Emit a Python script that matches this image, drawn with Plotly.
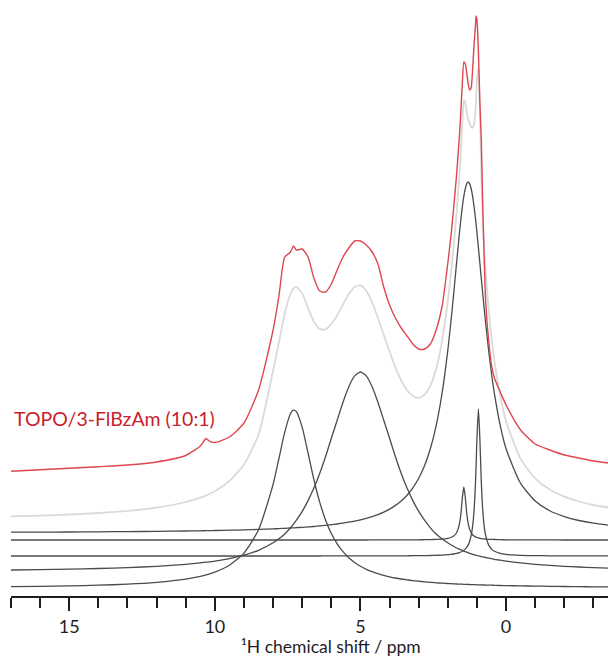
import plotly.graph_objects as go

# Chemical-shift grid (ppm) shared by every trace
PPM = [17, 16, 15, 14, 13, 12, 11, 10.5, 10.3, 10.2, 10.0, 9.5, 9.0, 8.5, 8.0,
       7.8, 7.6, 7.4, 7.3, 7.2, 7.0, 6.8, 6.6, 6.4, 6.2, 6.0, 5.8, 5.6, 5.4, 5.2,
       5.0, 4.8, 4.6, 4.4, 4.2, 4.0, 3.8, 3.6, 3.4, 3.2, 3.0, 2.8, 2.6, 2.4, 2.2,
       2.0, 1.9, 1.8, 1.7, 1.6, 1.55, 1.5, 1.45, 1.4, 1.35, 1.3, 1.25, 1.2, 1.15,
       1.1, 1.05, 1.03, 1.0, 0.95, 0.9, 0.85, 0.8, 0.75, 0.7, 0.6, 0.5, 0.4, 0.2,
       0.0, -0.5, -1.0, -1.5, -2.0, -2.5, -3.0, -3.5]

# Experimental spectrum TOPO/3-FlBzAm (10:1), intensity above its own baseline
EXPERIMENTAL = [3.8, 5.3, 6.7, 8.3, 10.0, 13.0, 19.5, 29.0, 36.5, 34.0, 32.5, 38.0,
                52.0, 85.0, 145.0, 179.0, 218.0, 223.0, 229.0, 225.0, 226.0, 218.0,
                197.0, 184.0, 183.0, 191.0, 205.0, 218.0, 227.0, 234.0, 234.0, 230.0,
                223.0, 211.0, 188.0, 170.0, 157.0, 147.0, 139.0, 131.0, 126.0, 126.0,
                131.0, 145.0, 168.0, 212.0, 237.0, 267.0, 300.0, 340.0, 365.0, 393.0,
                413.0, 411.0, 402.0, 391.0, 385.0, 387.0, 405.0, 430.0, 450.0, 459.0,
                455.0, 424.0, 373.0, 335.0, 267.0, 215.0, 173.0, 135.0, 110.0, 97.0,
                83.0, 70.0, 45.0, 31.0, 25.0, 20.0, 17.0, 14.0, 12.0]

# Sum of the fitted components (light grey)
FIT_SUM = [4.1, 4.9, 6.0, 7.5, 9.6, 12.9, 18.5, 22.9, 25.1, 26.4, 29.2, 39.5, 56.0,
           86.0, 150.0, 178.0, 207.0, 227.0, 232.0, 233.5, 226.9, 212.5, 198.9,
           191.6, 191.1, 196.6, 205.1, 215.9, 226.4, 233.6, 235.1, 229.6, 218.2,
           202.6, 185.5, 169.0, 153.2, 140.0, 130.3, 124.5, 122.6, 125.9, 134.9,
           151.8, 179.2, 219.6, 245.1, 274.8, 307.9, 346.7, 370.7, 399.1, 420.0,
           417.7, 407.9, 401.2, 396.8, 393.6, 392.6, 396.3, 411.0, 421.2, 440.1,
           453.7, 408.2, 347.7, 303.4, 272.2, 248.1, 211.4, 183.1, 159.9, 124.5,
           99.3, 61.6, 42.2, 30.9, 23.8, 19.0, 15.5, 13.0]

# Individual fitted components
COMP_7_3 = [1.4, 1.7, 2.1, 2.8, 3.8, 5.6, 8.8, 11.6, 13.1, 13.9, 15.8, 22.8, 34.9,
            58.2, 103.7, 129.5, 155.9, 174.5, 177.9, 176.4, 160.6, 135.0, 108.5,
            85.9, 68.1, 54.5, 44.2, 36.3, 30.2, 25.5, 21.7, 18.7, 16.3, 14.3, 12.6,
            11.2, 10.0, 9.0, 8.2, 7.4, 6.8, 6.2, 5.7, 5.2, 4.9, 4.5, 4.3, 4.2, 4.0,
            3.9, 3.8, 3.8, 3.7, 3.6, 3.6, 3.5, 3.5, 3.4, 3.4, 3.3, 3.3, 3.2, 3.2,
            3.2, 3.1, 3.1, 3.0, 3.0, 2.9, 2.8, 2.8, 2.7, 2.5, 2.4, 2.1, 1.9, 1.7,
            1.5, 1.3, 1.2, 1.1]

COMP_5_0 = [2.0, 2.4, 2.8, 3.5, 4.4, 5.7, 7.7, 9.1, 9.8, 10.1, 10.9, 13.3, 16.8,
            21.7, 29.2, 33.2, 38.0, 44.2, 47.8, 51.8, 60.6, 71.4, 83.9, 98.6, 115.3,
            133.7, 151.8, 169.7, 185.3, 196.1, 200.0, 196.1, 185.3, 169.7, 151.8,
            133.7, 115.3, 98.6, 83.9, 71.4, 60.6, 51.8, 44.2, 38.0, 33.2, 29.2, 27.2,
            25.7, 24.0, 22.8, 22.2, 21.7, 20.8, 20.3, 19.8, 19.3, 18.6, 18.1, 17.7,
            17.3, 16.9, 16.8, 16.5, 16.1, 15.8, 15.4, 15.1, 14.8, 14.5, 13.9, 13.3,
            12.7, 11.8, 10.9, 9.1, 7.7, 6.6, 5.7, 5.0, 4.4, 3.9]

COMP_1_3 = [0.8, 0.9, 1.0, 1.2, 1.4, 1.6, 2.0, 2.2, 2.3, 2.4, 2.5, 2.8, 3.1, 3.6,
            4.1, 4.4, 4.7, 5.0, 5.1, 5.3, 5.7, 6.1, 6.5, 7.1, 7.6, 8.3, 9.0, 9.8,
            10.8, 11.9, 13.2, 14.6, 16.4, 18.4, 20.9, 23.9, 27.6, 32.1, 37.8, 45.2,
            54.7, 67.2, 84.2, 107.3, 139.3, 182.9, 209.5, 238.9, 270.0, 300.3, 314.2,
            326.5, 336.8, 344.5, 349.4, 351.0, 349.4, 344.5, 336.8, 326.5, 314.2,
            308.8, 300.3, 285.4, 270.0, 254.3, 238.9, 223.9, 209.5, 182.9, 159.5,
            139.3, 107.3, 84.2, 49.6, 32.1, 22.3, 16.4, 12.5, 9.8, 7.9]

COMP_1_45 = [0.0] * 32 + [0.1, 0.1, 0.1, 0.1, 0.1, 0.1, 0.1, 0.2, 0.2, 0.3, 0.4,
             0.6, 0.9, 1.7, 2.5, 4.0, 7.3, 16.3, 26.5, 42.4, 53.0, 42.4, 26.5, 16.3,
             10.6, 7.3, 5.3, 4.0, 3.1, 2.8, 2.5, 2.0, 1.7, 1.4, 1.2, 1.1, 0.9, 0.7,
             0.6, 0.5, 0.3, 0.2, 0.1, 0.1, 0.1, 0.0, 0.0, 0.0, 0.0]

COMP_0_95 = [0.0] * 24 + [0.1, 0.1, 0.1, 0.1, 0.1, 0.1, 0.1, 0.1, 0.1, 0.1, 0.1,
             0.2, 0.2, 0.2, 0.2, 0.3, 0.3, 0.4, 0.5, 0.7, 0.9, 1.3, 1.6, 2.0, 2.6,
             3.4, 4.0, 4.7, 5.7, 6.9, 8.6, 11.1, 14.7, 20.3, 29.4, 45.2, 73.5, 89.6,
             117.6, 147.0, 117.6, 73.5, 45.2, 29.4, 20.3, 11.1, 6.9, 4.7, 2.6, 1.6,
             0.7, 0.4, 0.2, 0.2, 0.1, 0.1, 0.1]

LABEL = "TOPO/3-FlBzAm (10:1)"
X_TITLE = "¹H chemical shift / ppm"
TICK_VALUES = [15, 10, 5, 0]

# ---- stacking offsets and styles (presentation only) ----
STACK = [
    (COMP_7_3, 8, "rgb(75,75,75)", 1.3),
    (COMP_5_0, 24, "rgb(75,75,75)", 1.3),
    (COMP_0_95, 40, "rgb(75,75,75)", 1.3),
    (COMP_1_45, 56, "rgb(75,75,75)", 1.3),
    (COMP_1_3, 63, "rgb(75,75,75)", 1.3),
    (FIT_SUM, 75.5, "rgb(218,218,218)", 1.8),
    (EXPERIMENTAL, 121, "rgb(222,70,80)", 1.4),
]

FONT = "Lato, 'Open Sans', sans-serif"
INK = "rgb(30,30,30)"

fig = go.Figure()
for values, offset, color, width in STACK:
    fig.add_trace(go.Scatter(
        x=PPM, y=[v + offset for v in values], mode="lines",
        line=dict(color=color, width=width, shape="spline", smoothing=0.6),
        hoverinfo="skip", showlegend=False))

fig.add_annotation(text=LABEL, xref="paper", x=0.002, yref="y", y=178,
                   xanchor="left", yanchor="middle", showarrow=False,
                   font=dict(family=FONT, size=19.5, color="rgb(200,30,45)"))

# axis title placed below the tick labels
fig.add_annotation(text=X_TITLE, xref="paper", x=0.536, yref="paper", y=-0.0855,
                   xanchor="center", yanchor="middle", showarrow=False,
                   font=dict(family=FONT, size=17.5, color=INK))

fig.update_layout(
    width=608, height=657,
    margin=dict(l=11, r=0, t=0, b=61),
    paper_bgcolor="white", plot_bgcolor="white",
    showlegend=False,
)
fig.update_xaxes(
    range=[17, -3.5], showgrid=False, zeroline=False,
    showline=True, linecolor=INK, linewidth=2,
    ticks="outside", ticklen=13, tickwidth=2, tickcolor=INK,
    tickvals=TICK_VALUES, ticktext=[str(v) for v in TICK_VALUES],
    minor=dict(ticks="outside", dtick=1, tick0=0, ticklen=10, tickwidth=2,
               tickcolor=INK, showgrid=False),
    tickfont=dict(family=FONT, size=18, color=INK),
)
fig.update_yaxes(range=[0, 596], visible=False, showgrid=False, zeroline=False)

fig.write_html("out.html")
